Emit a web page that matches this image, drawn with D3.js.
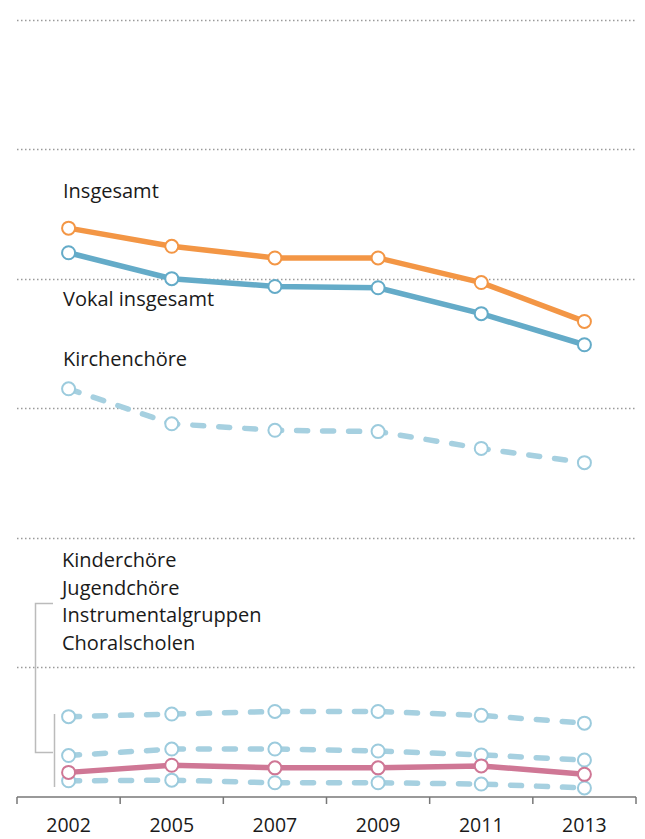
<!DOCTYPE html>
<html>
<head>
<meta charset="utf-8">
<script src="https://cdn.jsdelivr.net/npm/d3@7"></script>
<style>
  body { margin: 0; background: #fff; }
  text { font-family: "Open Sans", "Noto Sans", sans-serif; fill: #1a1a1a; }
</style>
</head>
<body>
<div id="chart"></div>
<script>
// years on the x axis
var years = ["2002", "2005", "2007", "2009", "2011", "2013"];

// values in thousands (grid every 10)
var insgesamt      = [43.9, 42.5, 41.6, 41.6, 39.7, 36.7];
var vokal          = [42.0, 40.0, 39.4, 39.3, 37.3, 34.9];
var kirchenchoere  = [31.5, 28.8, 28.3, 28.2, 26.9, 25.8];
var kinderchoere   = [6.2, 6.4, 6.6, 6.6, 6.3, 5.7];
var jugendchoere   = [3.2, 3.7, 3.7, 3.55, 3.25, 2.85];
var instrumental   = [1.9, 2.45, 2.25, 2.25, 2.4, 1.75];
var choralscholen  = [1.25, 1.3, 1.1, 1.1, 1.0, 0.7];

var gridValues = [10, 20, 30, 40, 50, 60];

var width = 645, height = 839;

var svg = d3.select("#chart").append("svg")
    .attr("width", width)
    .attr("height", height);

var x = d3.scaleBand().domain(years).range([17, 636]);
var y = d3.scaleLinear().domain([0, 60]).range([797, 19.5]);

// dotted grid lines
svg.selectAll(".grid")
  .data(gridValues)
  .enter().append("line")
    .attr("class", "grid")
    .attr("x1", 17).attr("x2", 636)
    .attr("y1", function(d) { return Math.round(y(d)) + 0.5; })
    .attr("y2", function(d) { return Math.round(y(d)) + 0.5; })
    .style("stroke", "#9a9a9a")
    .style("stroke-width", 1.5)
    .style("stroke-dasharray", "1.5,2.5");

// x axis
var axis = svg.append("g")
    .attr("transform", "translate(0,797)");
axis.append("line")
    .attr("x1", 17).attr("x2", 636)
    .style("stroke", "#777").style("stroke-width", 1.5);
var tickX = years.map(function(d) { return x(d); }).concat([636]);
axis.selectAll(".tick")
  .data(tickX)
  .enter().append("line")
    .attr("x1", function(d) { return d; })
    .attr("x2", function(d) { return d; })
    .attr("y1", 0).attr("y2", 7)
    .style("stroke", "#777").style("stroke-width", 1.5);
axis.selectAll(".year")
  .data(years)
  .enter().append("text")
    .attr("x", function(d) { return x(d) + x.bandwidth() / 2; })
    .attr("y", 35)
    .attr("text-anchor", "middle")
    .style("font-size", "19.5px")
    .text(function(d) { return d; });

var series = [
  { values: choralscholen, color: "#a6d0e0", stroke: "#9ccbdd", dash: true },
  { values: jugendchoere,  color: "#a6d0e0", stroke: "#9ccbdd", dash: true },
  { values: kinderchoere,  color: "#a6d0e0", stroke: "#9ccbdd", dash: true },
  { values: instrumental,  color: "#cf7795", stroke: "#cf7795", dash: false },
  { values: kirchenchoere, color: "#a6d0e0", stroke: "#9ccbdd", dash: true },
  { values: vokal,         color: "#64abc8", stroke: "#64abc8", dash: false },
  { values: insgesamt,     color: "#f39645", stroke: "#f39645", dash: false }
];

var line = d3.line()
    .x(function(d, i) { return x(years[i]) + x.bandwidth() / 2; })
    .y(function(d) { return y(d); });

series.forEach(function(s) {
  svg.append("path")
    .datum(s.values)
    .attr("d", line)
    .style("fill", "none")
    .style("stroke", s.color)
    .style("stroke-width", 5.5)
    .style("stroke-linecap", s.dash ? "round" : "butt")
    .style("stroke-dasharray", s.dash ? "11,15" : null);
  svg.selectAll(null)
    .data(s.values)
    .enter().append("circle")
      .attr("cx", function(d, i) { return x(years[i]) + x.bandwidth() / 2; })
      .attr("cy", function(d) { return y(d); })
      .attr("r", 6.5)
      .style("fill", "#fff")
      .style("stroke", s.stroke)
      .style("stroke-width", 2);
});

// bracket for the small groups
svg.append("path")
    .attr("d", "M53,603.5H35.5V752.5H53")
    .style("fill", "none").style("stroke", "#bbb").style("stroke-width", 1.5);
svg.append("line")
    .attr("x1", 54.5).attr("x2", 54.5)
    .attr("y1", 714).attr("y2", 787)
    .style("stroke", "#bbb").style("stroke-width", 1.5);

// labels
var labels = [
  { t: "Insgesamt", x: 63, y: 198 },
  { t: "Vokal insgesamt", x: 63, y: 306 },
  { t: "Kirchenchöre", x: 63, y: 366 },
  { t: "Kinderchöre", x: 62, y: 567 },
  { t: "Jugendchöre", x: 62, y: 595 },
  { t: "Instrumentalgruppen", x: 62, y: 622 },
  { t: "Choralscholen", x: 62, y: 650 }
];
svg.selectAll(".label")
  .data(labels)
  .enter().append("text")
    .attr("x", function(d) { return d.x; })
    .attr("y", function(d) { return d.y; })
    .style("font-size", "20px")
    .text(function(d) { return d.t; });
</script>
</body>
</html>
